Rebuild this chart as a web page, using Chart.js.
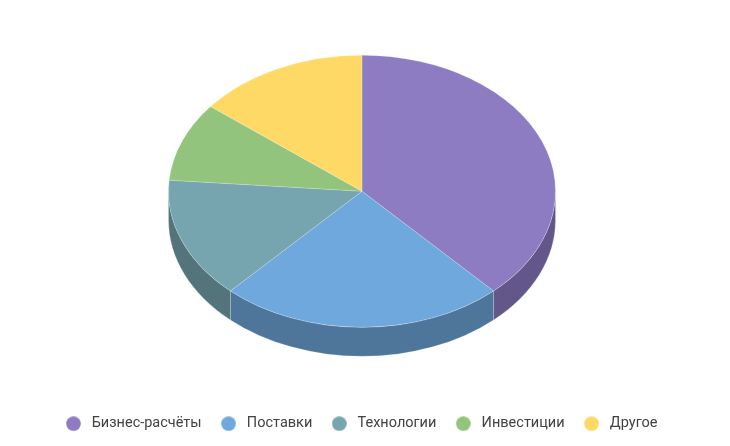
<!DOCTYPE html>
<html>
<head>
<meta charset="utf-8">
<script src="https://cdn.jsdelivr.net/npm/chart.js@4"></script>
<style>
  html, body { margin: 0; padding: 0; background: #fff; }
  #wrap { width: 730px; height: 446px; }
</style>
</head>
<body>
<div id="wrap"><canvas id="pieChart" width="730" height="446"></canvas></div>
<script>
// Data
const categories = ['Бизнес-расчёты', 'Поставки', 'Технологии', 'Инвестиции', 'Другое'];
const shares = [38.1, 23.8, 14.4, 9.4, 14.3];
const topColors = ['#8e7cc3', '#6fa8dc', '#76a5af', '#93c47d', '#ffd966'];
const sideColors = ['#63578a', '#4e769a', '#53747b', '#678957', '#b39847'];

// Look of the 3D tilt
const TILT = 136 / 193.5;
const DEPTH = 29;
const LIFT = 9;
const NUDGE_X = 2;
const EDGE = 'rgba(255,255,255,0.45)';

// Round legend marker, as an image so the gap to the text can be set freely
function marker(color) {
    const c = document.createElement('canvas');
    c.width = 15;
    c.height = 15;
    const g = c.getContext('2d');
    g.fillStyle = color;
    g.beginPath();
    g.arc(7.5, 7.5, 7.3, 0, Math.PI * 2);
    g.fill();
    return c;
}

// Squash the pie into an ellipse and draw the side wall under it
const tiltPlugin = {
    id: 'tilt',
    beforeDatasetsDraw(chart) {
        const ctx = chart.ctx;
        const arcs = chart.getDatasetMeta(0).data;
        const cy = arcs[0].y;
        ctx.save();
        ctx.translate(NUDGE_X, cy - LIFT);
        ctx.scale(1, TILT);
        ctx.translate(0, -cy);

        const drop = DEPTH / TILT;
        arcs.forEach((arc, i) => {
            // only the front half of the rim can be seen
            const from = Math.max(arc.startAngle, 0);
            const to = Math.min(arc.endAngle, Math.PI);
            if (to <= from) return;
            ctx.beginPath();
            ctx.arc(arc.x, arc.y, arc.outerRadius, from, to);
            ctx.arc(arc.x, arc.y + drop, arc.outerRadius, to, from, true);
            ctx.closePath();
            ctx.fillStyle = sideColors[i];
            ctx.fill();
            ctx.strokeStyle = EDGE;
            ctx.lineWidth = 0.5;
            ctx.stroke();
        });
    },
    afterDatasetsDraw(chart) {
        chart.ctx.restore();
    }
};

new Chart(document.getElementById('pieChart').getContext('2d'), {
    type: 'pie',
    data: {
        labels: categories,
        datasets: [{
            data: shares,
            backgroundColor: topColors,
            borderColor: EDGE,
            borderWidth: 0.5,
            radius: 193.5,
            clip: false
        }]
    },
    options: {
        responsive: false,
        animation: false,
        devicePixelRatio: 1,
        layout: { padding: { right: 10, bottom: 5 } },
        plugins: {
            tooltip: { enabled: false },
            legend: {
                position: 'bottom',
                labels: {
                    color: '#424242',
                    font: { family: 'Roboto', size: 14.5 },
                    usePointStyle: true,
                    pointStyleWidth: 22,
                    padding: 16,
                    generateLabels(chart) {
                        return categories.map((name, i) => ({
                            text: name,
                            index: i,
                            fontColor: '#424242',
                            pointStyle: marker(topColors[i]),
                            fillStyle: topColors[i],
                            strokeStyle: topColors[i],
                            lineWidth: 0
                        }));
                    }
                }
            }
        }
    },
    plugins: [tiltPlugin]
});
</script>
</body>
</html>
